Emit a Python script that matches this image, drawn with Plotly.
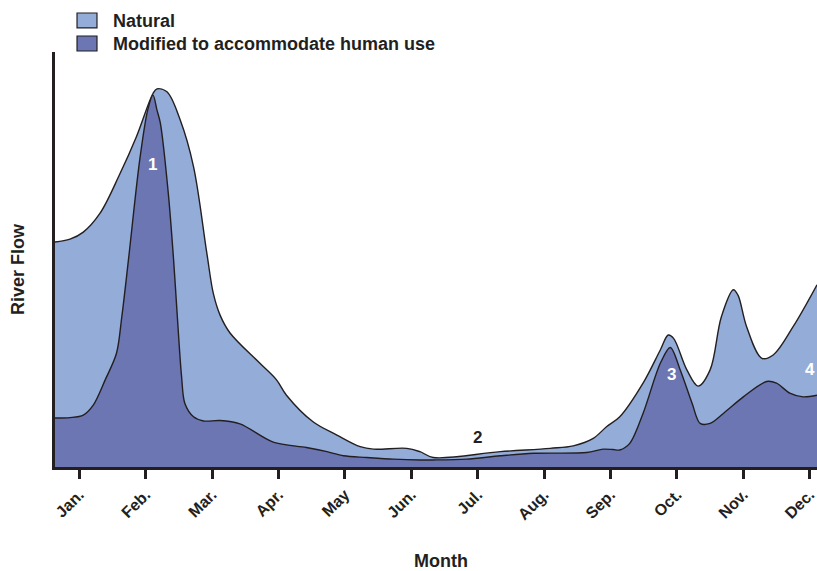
import plotly.graph_objects as go

# Month position (0 = Jan.) and relative river flow (0-100)
natural_x = [-0.366, -0.14, 0.06, 0.31, 0.61, 0.86, 1.11, 1.17, 1.32, 1.52, 1.72, 1.92, 2.02, 2.12,
             2.27, 2.72, 2.97, 3.12, 3.52, 3.88, 4.23, 4.43, 4.93, 5.13, 5.33, 6.34, 7.09, 7.44,
             7.74, 7.94, 8.14, 8.49, 8.75, 8.87, 8.95, 9.15, 9.32, 9.50, 9.67, 9.85, 9.92, 10.05,
             10.28, 10.45, 10.75, 11.11]
natural_y = [54.2, 54.9, 56.6, 61.1, 70.6, 79.6, 90.0, 91.1, 90.4, 83.6, 72.4, 51.6, 41.7, 36.6,
             32.3, 25.0, 21.0, 17.3, 10.9, 7.7, 4.9, 4.3, 4.5, 3.7, 2.3, 3.7, 4.5, 5.1,
             6.9, 9.7, 12.1, 20.2, 28.2, 31.8, 31.0, 23.4, 19.5, 23.4, 36.2, 42.7, 41.4, 33.8,
             26.2, 27.0, 33.8, 43.9]

modified_x = [-0.366, -0.14, 0.06, 0.21, 0.39, 0.56, 0.64, 0.74, 0.91, 1.03, 1.11, 1.17, 1.22, 1.34,
              1.42, 1.47, 1.54, 1.59, 1.72, 1.87, 2.12, 2.42, 2.92, 3.42, 3.73, 3.98, 4.33, 4.73,
              5.13, 5.33, 5.83, 6.34, 6.84, 7.64, 7.89, 8.04, 8.14, 8.29, 8.49, 8.75, 8.90, 9.05,
              9.23, 9.35, 9.50, 9.70, 10.00, 10.35, 10.50, 10.70, 10.90, 11.11]
modified_y = [11.8, 11.9, 12.5, 14.9, 21.0, 27.4, 36.2, 49.9, 74.0, 86.0, 89.6, 86.0, 82.9, 66.0,
              49.9, 37.8, 21.8, 15.3, 12.1, 11.1, 11.2, 10.4, 6.0, 4.7, 3.7, 2.7, 2.3, 1.9,
              1.7, 1.7, 1.9, 2.7, 3.3, 3.5, 4.3, 4.2, 4.1, 5.7, 12.9, 25.0, 28.8, 23.4,
              15.3, 10.5, 10.5, 12.9, 16.9, 20.6, 20.2, 17.8, 16.9, 17.3]

month_labels = ["Jan.", "Feb.", "Mar.", "Apr.", "May", "Jun.", "Jul.", "Aug.", "Sep.", "Oct.", "Nov.", "Dec."]
month_pos = list(range(12))

series_names = ["Natural", "Modified to accommodate human use"]
callouts = [("1", 1.095, 72.8, "white", "center"),
            ("2", 6.0, 7.2, "#231f20", "center"),
            ("3", 8.92, 22.4, "white", "center"),
            ("4", 11.11, 23.6, "white", "right")]

NAT_COL = "#94acd8"
MOD_COL = "#6b76b2"
INK = "#231f20"
FONT = "Liberation Sans, Arial, Helvetica, sans-serif"

fig = go.Figure()
fig.add_trace(go.Scatter(x=natural_x, y=natural_y, mode="lines", fill="tozeroy",
                         fillcolor=NAT_COL, line=dict(color=INK, width=1.4, shape="spline", smoothing=1.0),
                         name=series_names[0], showlegend=False, hoverinfo="skip"))
fig.add_trace(go.Scatter(x=modified_x, y=modified_y, mode="lines", fill="tozeroy",
                         fillcolor=MOD_COL, line=dict(color=INK, width=1.4, shape="spline", smoothing=0.9),
                         name=series_names[1], showlegend=False, hoverinfo="skip"))

annotations = []
for txt, x, y, col, anc in callouts:
    annotations.append(dict(x=x, y=y, xref="x", yref="y", text=f"<b>{txt}</b>", showarrow=False,
                            font=dict(family=FONT, size=17, color=col), xanchor=anc, yanchor="middle"))

# axis titles
annotations.append(dict(x=0.5066, y=-0.2265, xref="paper", yref="paper", text="<b>Month</b>",
                        showarrow=False, font=dict(family=FONT, size=18, color=INK),
                        xanchor="center", yanchor="middle"))
annotations.append(dict(x=-0.0486, y=0.477, xref="paper", yref="paper", text="<b>River Flow</b>",
                        showarrow=False, textangle=-90, font=dict(family=FONT, size=18, color=INK),
                        xanchor="center", yanchor="middle"))

# manual legend
shapes = []
legend_rows = [(series_names[0], NAT_COL, 1.094, 1.058, 1.0747),
               (series_names[1], MOD_COL, 1.0386, 1.0024, 1.019)]
for name, col, y0, y1, ty in legend_rows:
    shapes.append(dict(type="rect", xref="paper", yref="paper", x0=0.0289, x1=0.0551, y0=y1, y1=y0,
                       fillcolor=col, line=dict(color=INK, width=1.2)))
    annotations.append(dict(x=0.0735, y=ty, xref="paper", yref="paper", text=f"<b>{name}</b>",
                            showarrow=False, font=dict(family=FONT, size=18, color=INK),
                            xanchor="left", yanchor="middle"))

fig.update_layout(
    width=817, height=571,
    margin=dict(l=55, r=0, t=52, b=104, autoexpand=False),
    paper_bgcolor="white", plot_bgcolor="white",
    showlegend=False,
    annotations=annotations, shapes=shapes,
    xaxis=dict(range=[-0.366, 11.11], tickmode="array", tickvals=month_pos, ticktext=month_labels,
               tickangle=-45, ticks="outside", ticklen=9, tickwidth=2.5, tickcolor=INK,
               showline=True, linecolor=INK, linewidth=3, showgrid=False, zeroline=False,
               automargin=False, ticklabeloverflow="allow",
               tickfont=dict(family=FONT, size=16, color=INK, weight="bold"), fixedrange=True),
    yaxis=dict(range=[0, 100], showticklabels=False, ticks="", showline=True, linecolor=INK,
               linewidth=3, showgrid=False, zeroline=False, fixedrange=True, automargin=False),
)

post = ("document.documentElement.style.margin='0';document.documentElement.style.overflow='hidden';"
        "document.body.style.margin='0';document.body.style.padding='0';document.body.style.overflow='hidden';")
fig.write_html("out.html", post_script=post, config={"responsive": False, "displayModeBar": False})
